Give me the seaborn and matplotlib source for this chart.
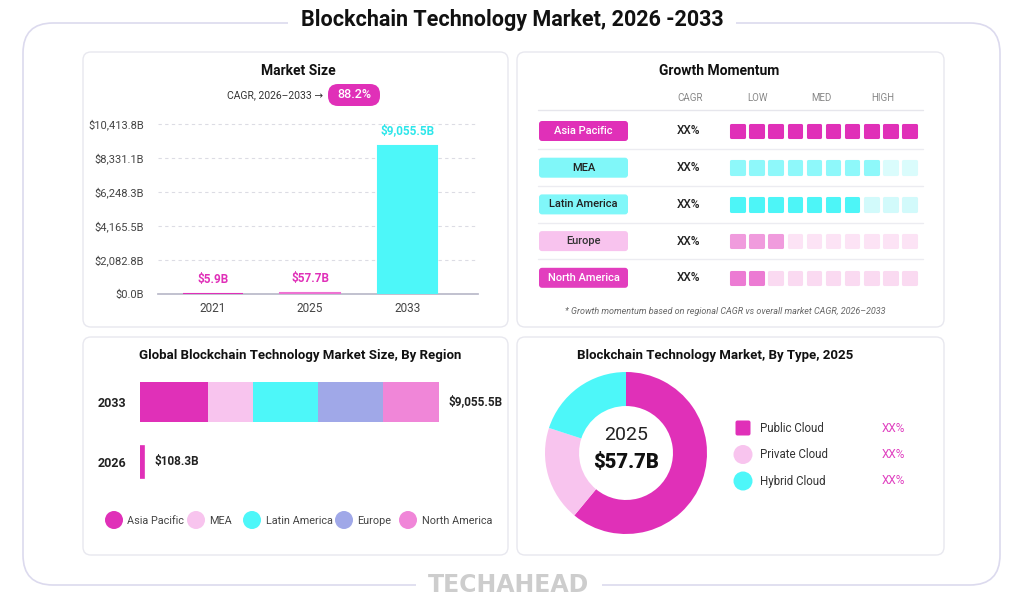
import numpy as np
import pandas as pd
import seaborn as sns
import matplotlib.pyplot as plt
from matplotlib.patches import FancyBboxPatch, Circle

W, H = 1024, 609

# ---- data ----
years = ["2021", "2025", "2033"]
market_size = [5.9, 57.7, 9055.5]
size_ticks = [0.0, 2082.8, 4165.5, 6248.3, 8331.1, 10413.8]
cagr_text = "88.2%"

mom_regions = ["Asia Pacific", "MEA", "Latin America", "Europe", "North America"]
mom_level = [10, 8, 7, 3, 2]          # filled squares out of 10
mom_cagr = ["XX%", "XX%", "XX%", "XX%", "XX%"]
mom_header = ["LOW", "MED", "HIGH"]

stack_regions = ["Asia Pacific", "MEA", "Latin America", "Europe", "North America"]
stack_2033 = [2059, 1363, 1969, 1969, 1696]
total_2033 = 9055.5
total_2026 = 108.3

types = ["Public Cloud", "Private Cloud", "Hybrid Cloud"]
type_share = [61, 19, 20]
type_pct = ["XX%", "XX%", "XX%"]

# ---- colours ----
MAG = "#E030B8"
CYAN = "#4DF7F9"
bar_colors = [MAG, "#EE72D2", CYAN]
stack_colors = [MAG, "#F8C4EE", CYAN, "#A0A8E8", "#F086D8"]
pill_colors = [MAG, "#80F7F9", "#80F7F9", "#F8C3EE", "#E23EBE"]
pill_text = ["white", "#222222", "#222222", "#333333", "white"]
sq_fill = [MAG, "#8EF8FA", "#4DF5F7", "#F09BDD", "#EC7BD3"]
sq_empty = [MAG, "#DAFCFC", "#D2FAFB", "#FCE3F5", "#FADAF1"]
type_colors = [MAG, "#F8C4EE", CYAN]

sns.set_theme(style="white")
plt.rcParams['font.family'] = ['Roboto', 'DejaVu Sans']

fig = plt.figure(figsize=(W / 100, H / 100), dpi=100)
fig.patch.set_facecolor("white")
bg = fig.add_axes([0, 0, 1, 1])
bg.set_xlim(0, W)
bg.set_ylim(H, 0)
bg.axis("off")


def rbox(ax, x0, y0, x1, y1, r, fc, ec="none", lw=0, z=1):
    ax.add_patch(FancyBboxPatch((x0, y0), x1 - x0, y1 - y0,
                                boxstyle=f"round,pad=0,rounding_size={r}",
                                fc=fc, ec=ec, lw=lw, zorder=z))


def px_axes(x0, y0, x1, y1):
    a = fig.add_axes([x0 / W, 1 - y1 / H, (x1 - x0) / W, (y1 - y0) / H])
    a.patch.set_alpha(0)
    return a


# outer frame + title + footer
rbox(bg, 23, 23, 1000, 585, 30, "none", "#DCDAEE", 1.2)
bg.text(512, 20, "Blockchain Technology Market, 2026 -2033", ha="center", va="center",
        fontsize=15.5, fontweight="bold", color="#111111",
        bbox=dict(fc="white", ec="none", pad=9), zorder=5)
bg.text(509, 585, "TECHAHEAD", ha="center", va="center", fontsize=17, fontweight="bold",
        family="DejaVu Sans", color="#CDCDCD", bbox=dict(fc="white", ec="none", pad=9), zorder=5)

# panels
for (x0, y0, x1, y1) in [(83, 52, 508, 327), (517, 52, 944, 327),
                         (83, 337, 508, 555), (517, 337, 944, 555)]:
    rbox(bg, x0, y0, x1, y1, 8, "white", "#E8E8EF", 1.0, z=1)

# ---- panel 1 : market size ----
bg.text(298, 71, "Market Size", ha="center", va="center", fontsize=10, fontweight="bold", color="#111111")
bg.text(323, 95, "CAGR, 2026\u20132033 \u2192", ha="right", va="center", fontsize=7.5, color="#333333")
rbox(bg, 328, 84, 380, 106, 10, MAG, z=2)
bg.text(354, 95, cagr_text, ha="center", va="center", fontsize=9, fontweight="medium", color="white", zorder=3)

ax1 = px_axes(158, 123, 478, 294)
df_size = pd.DataFrame({"year": years, "size": market_size})
sns.barplot(data=df_size, x="year", y="size", hue="year", palette=bar_colors, legend=False,
            width=0.61, saturation=1, ax=ax1, zorder=3)
for p, c in zip(ax1.patches, bar_colors):
    p.set_edgecolor(c)
    p.set_linewidth(1.5)
ax1.set_xlim(-0.567, 2.73)
ax1.set_ylim(0, size_ticks[-1] * 1.004)
ax1.set_yticks(size_ticks)
ax1.set_yticklabels([f"${v:,.1f}B" for v in size_ticks])
ax1.yaxis.grid(True, ls=(0, (3, 3)), color="#DCDCE4", lw=0.8)
ax1.set_axisbelow(True)
ax1.set_xlabel("")
ax1.set_ylabel("")
for s in ["top", "right", "left"]:
    ax1.spines[s].set_visible(False)
ax1.spines["bottom"].set_color("#B9B9C9")
ax1.tick_params(axis="y", length=0, pad=10, labelsize=8, labelcolor="#444444")
ax1.tick_params(axis="x", length=0, pad=6, labelsize=8.5, labelcolor="#444444")
label_cols = [MAG, MAG, "#2EE6EA"]
for i, v in enumerate(market_size):
    ax1.annotate(f"${v:,.1f}B", (i, v), xytext=(0, 6), textcoords="offset points",
                 ha="center", va="bottom", fontsize=8.5, fontweight="bold", color=label_cols[i])

# ---- panel 2 : growth momentum ----
bg.text(719, 71, "Growth Momentum", ha="center", va="center", fontsize=10, fontweight="bold", color="#111111")
bg.text(690, 98, "CAGR", ha="center", va="center", fontsize=7, color="#888888")
for lab, x in zip(mom_header, [758, 821, 883]):
    bg.text(x, 98, lab, ha="center", va="center", fontsize=7, color="#888888")
row_y0, row_step = 131, 36.7
bg.plot([538, 923], [110, 110], color="#E6E6EC", lw=1, zorder=2)
for r, name in enumerate(mom_regions):
    y = row_y0 + r * row_step
    if r < len(mom_regions) - 1:
        bg.plot([538, 923], [y + row_step / 2] * 2, color="#ECECF1", lw=1, zorder=2)
    rbox(bg, 539, y - 10, 628, y + 10, 3, pill_colors[r], z=2)
    bg.text(583.5, y, name, ha="center", va="center", fontsize=8, color=pill_text[r],
            fontweight="medium", zorder=3)
    bg.text(689, y, mom_cagr[r], ha="center", va="center", fontsize=8.5, color="#222222",
            fontweight="medium", zorder=3)

ax2 = px_axes(728, row_y0 - row_step / 2, 919, row_y0 + 4.5 * row_step)
ax2.set_xlim(-0.5, 9.5)
ax2.set_ylim(len(mom_regions) - 0.5, -0.5)
ax2.axis("off")
cells = pd.DataFrame([(k, r, sq_fill[r] if k < lvl else sq_empty[r])
                      for r, lvl in enumerate(mom_level) for k in range(10)],
                     columns=["col", "row", "color"])
ax2.scatter(cells["col"], cells["row"], marker="s", s=82, c=cells["color"],
            edgecolors=cells["color"], linewidths=2.2, zorder=3)
for coll in ax2.collections:
    coll.set_joinstyle("round")

bg.text(725, 311, "* Growth momentum based on regional CAGR vs overall market CAGR, 2026\u20132033",
        ha="center", va="center", fontsize=6.5, style="italic", color="#666666")

# ---- panel 3 : by region ----
bg.text(300, 355, "Global Blockchain Technology Market Size, By Region", ha="center", va="center",
        fontsize=9.5, fontweight="bold", color="#111111")
ax3 = px_axes(140, 372, 439, 492)
lefts = np.concatenate([[0], np.cumsum(stack_2033)[:-1]])
ax3.barh(0, stack_2033, left=lefts, height=0.67, color=stack_colors, lw=0)
ax3.barh(1, total_2026, height=0.53, color=MAG, edgecolor=MAG, lw=1.2)
ax3.set_xlim(0, total_2033)
ax3.set_ylim(1.5, -0.5)
ax3.set_yticks([0, 1])
ax3.set_yticklabels(["2033", "2026"])
ax3.set_xticks([])
for s in ax3.spines.values():
    s.set_visible(False)
ax3.tick_params(axis="y", length=0, pad=10, labelsize=9, labelcolor="#222222")
for t in ax3.get_yticklabels():
    t.set_fontweight("bold")
ax3.annotate(f"${total_2033:,.1f}B", (total_2033, 0), xytext=(7, 0), textcoords="offset points",
             ha="left", va="center", fontsize=8.5, fontweight="bold", color="#222222")
ax3.annotate(f"${total_2026:,.1f}B", (total_2026, 1), xytext=(8, 0), textcoords="offset points",
             ha="left", va="center", fontsize=8.5, fontweight="bold", color="#222222")
for name, c, cx, tx in zip(stack_regions, stack_colors, [114, 196, 252, 344, 408], [127, 209, 266, 357, 422]):
    bg.add_patch(Circle((cx, 520), 9, fc=c, ec="none", zorder=3))
    bg.text(tx, 520.5, name, ha="left", va="center", fontsize=7.8, color="#444444")

# ---- panel 4 : by type ----
bg.text(715, 355, "Blockchain Technology Market, By Type, 2025", ha="center", va="center",
        fontsize=9.5, fontweight="bold", color="#111111")
ax4 = px_axes(545, 372, 707, 534)
ax4.pie(type_share, colors=type_colors, startangle=90, counterclock=False,
        wedgeprops=dict(width=0.42, edgecolor="none", linewidth=0))
ax4.set_xlim(-1, 1)
ax4.set_ylim(-1, 1)
ax4.text(0, 0.22, "2025", ha="center", va="center", fontsize=14, color="#222222")
ax4.text(0, -0.12, "$57.7B", ha="center", va="center", fontsize=14.5, fontweight="black", color="#111111")
for i, (name, c) in enumerate(zip(types, type_colors)):
    y = 428 + i * 26.5
    if i == 0:
        rbox(bg, 735.5, y - 7.5, 750.5, y + 7.5, 2, c, z=3)
    else:
        bg.add_patch(Circle((743, y), 9.5, fc=c, ec="none", zorder=3))
    bg.text(760, y, name, ha="left", va="center", fontsize=8.3, color="#333333")
    bg.text(893, y, type_pct[i], ha="center", va="center", fontsize=8.5, color="#E040C0")

fig.savefig("out.png", dpi=100, facecolor="white")
